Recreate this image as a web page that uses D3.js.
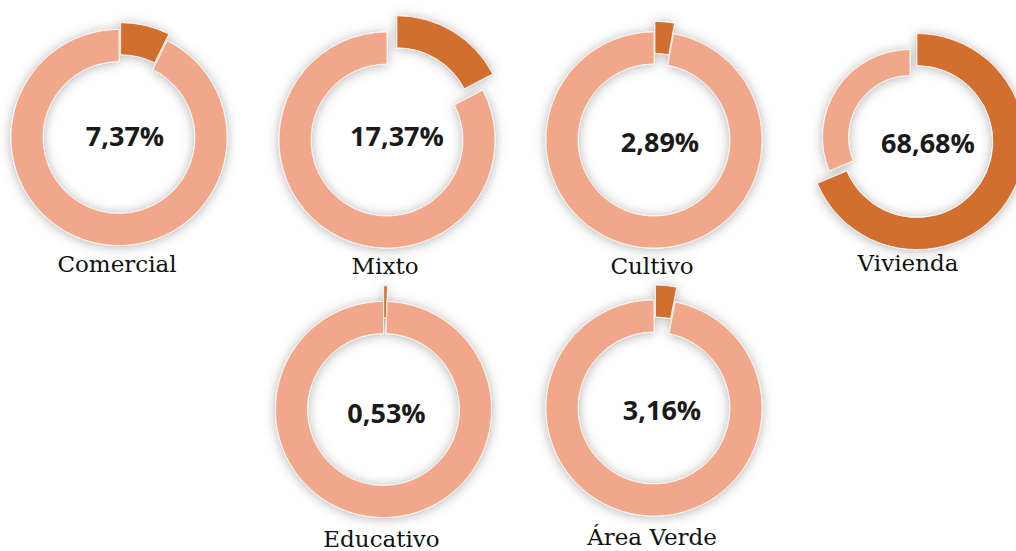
<!DOCTYPE html>
<html>
<head>
<meta charset="utf-8">
<script src="https://cdn.jsdelivr.net/npm/d3@7"></script>
<style>
  html, body { margin: 0; padding: 0; background: #ffffff; }
  svg { display: block; }
</style>
</head>
<body>
<svg id="chart" width="1016" height="551"></svg>
<script>
// Land-use shares (percent of total area)
const categories = ["Comercial", "Mixto", "Cultivo", "Vivienda", "Educativo", "Área Verde"];
const shares = [7.37, 17.37, 2.89, 68.68, 0.53, 3.16];

// Grid placement of each donut (column, row)
const gridCol = [0, 1, 2, 3, 1, 2];
const gridRow = [0, 0, 0, 0, 1, 1];
// Small per-donut nudges of the ring centre
const centerNudge = [[0, -1], [1, 1.5], [1, 1.5], [-10, -1.5], [-2.5, 0.5], [1, -1]];
// How far the highlighted slice is pulled out
const explode = [7, 19, 10.6, 8.3, 15.7, 15];
// Radius factor of the remaining slice
const restScale = [1, 1, 1, 0.81, 1, 1];
// Offset of the centre percentage text from the ring centre
const valueNudge = [[6, 8], [10, 6], [6, 11.5], [18, 16], [3, 13], [8, 11.5]];

const colorMain = "#D26E2D";
const colorRest = "#F1A78A";

const svg = d3.select("#chart");

const defs = svg.append("defs");
const shadow = defs.append("filter")
  .attr("id", "soft-shadow")
  .attr("x", "-30%").attr("y", "-30%")
  .attr("width", "160%").attr("height", "160%");
shadow.append("feDropShadow")
  .attr("dx", 0).attr("dy", 1)
  .attr("stdDeviation", 6)
  .attr("flood-color", "#000000")
  .attr("flood-opacity", 0.3);

const colX = d3.scaleLinear().domain([0, 3]).range([119, 920]);
const rowY = d3.scaleLinear().domain([0, 1]).range([138.5, 409]);

const outerR = 108;
const innerR = 76;

const pie = d3.pie().sort(null).value(d => d.value).startAngle(0).endAngle(2 * Math.PI);

const pct = d3.formatLocale({ decimal: ",", thousands: ".", grouping: [3], currency: ["", "€"] }).format(".2f");

categories.forEach((name, i) => {
  const cx = colX(gridCol[i]) + centerNudge[i][0];
  const cy = rowY(gridRow[i]) + centerNudge[i][1];
  const g = svg.append("g").attr("transform", `translate(${cx},${cy})`);

  const slices = pie([
    { key: "main", value: shares[i] },
    { key: "rest", value: 100 - shares[i] }
  ]);

  const ring = g.append("g").attr("filter", "url(#soft-shadow)");

  slices.forEach(s => {
    const isMain = s.data.key === "main";
    const k = isMain ? 1 : restScale[i];
    const arc = d3.arc().innerRadius(innerR * k).outerRadius(outerR * k);
    const mid = (s.startAngle + s.endAngle) / 2;
    const off = isMain ? explode[i] : 0;
    const dx = Math.sin(mid) * off;
    const dy = -Math.cos(mid) * off;
    ring.append("path")
      .attr("d", arc(s))
      .attr("transform", `translate(${dx},${dy})`)
      .attr("fill", isMain ? colorMain : colorRest)
      .attr("stroke", "#ffffff")
      .attr("stroke-width", 0.75);
  });

  g.append("text")
    .attr("x", valueNudge[i][0])
    .attr("y", valueNudge[i][1])
    .attr("text-anchor", "middle")
    .attr("font-family", "'Open Sans', 'Noto Sans', sans-serif")
    .attr("font-weight", 700)
    .attr("font-size", 27)
    .attr("fill", "#1a1a1a")
    .text(pct(shares[i]) + "%");

  g.append("text")
    .attr("x", -2)
    .attr("y", gridRow[i] === 0 ? 134 : 137)
    .attr("text-anchor", "middle")
    .attr("font-family", "'DejaVu Serif', serif")
    .attr("font-size", 23)
    .attr("fill", "#111111")
    .text(name);
});
</script>
</body>
</html>
